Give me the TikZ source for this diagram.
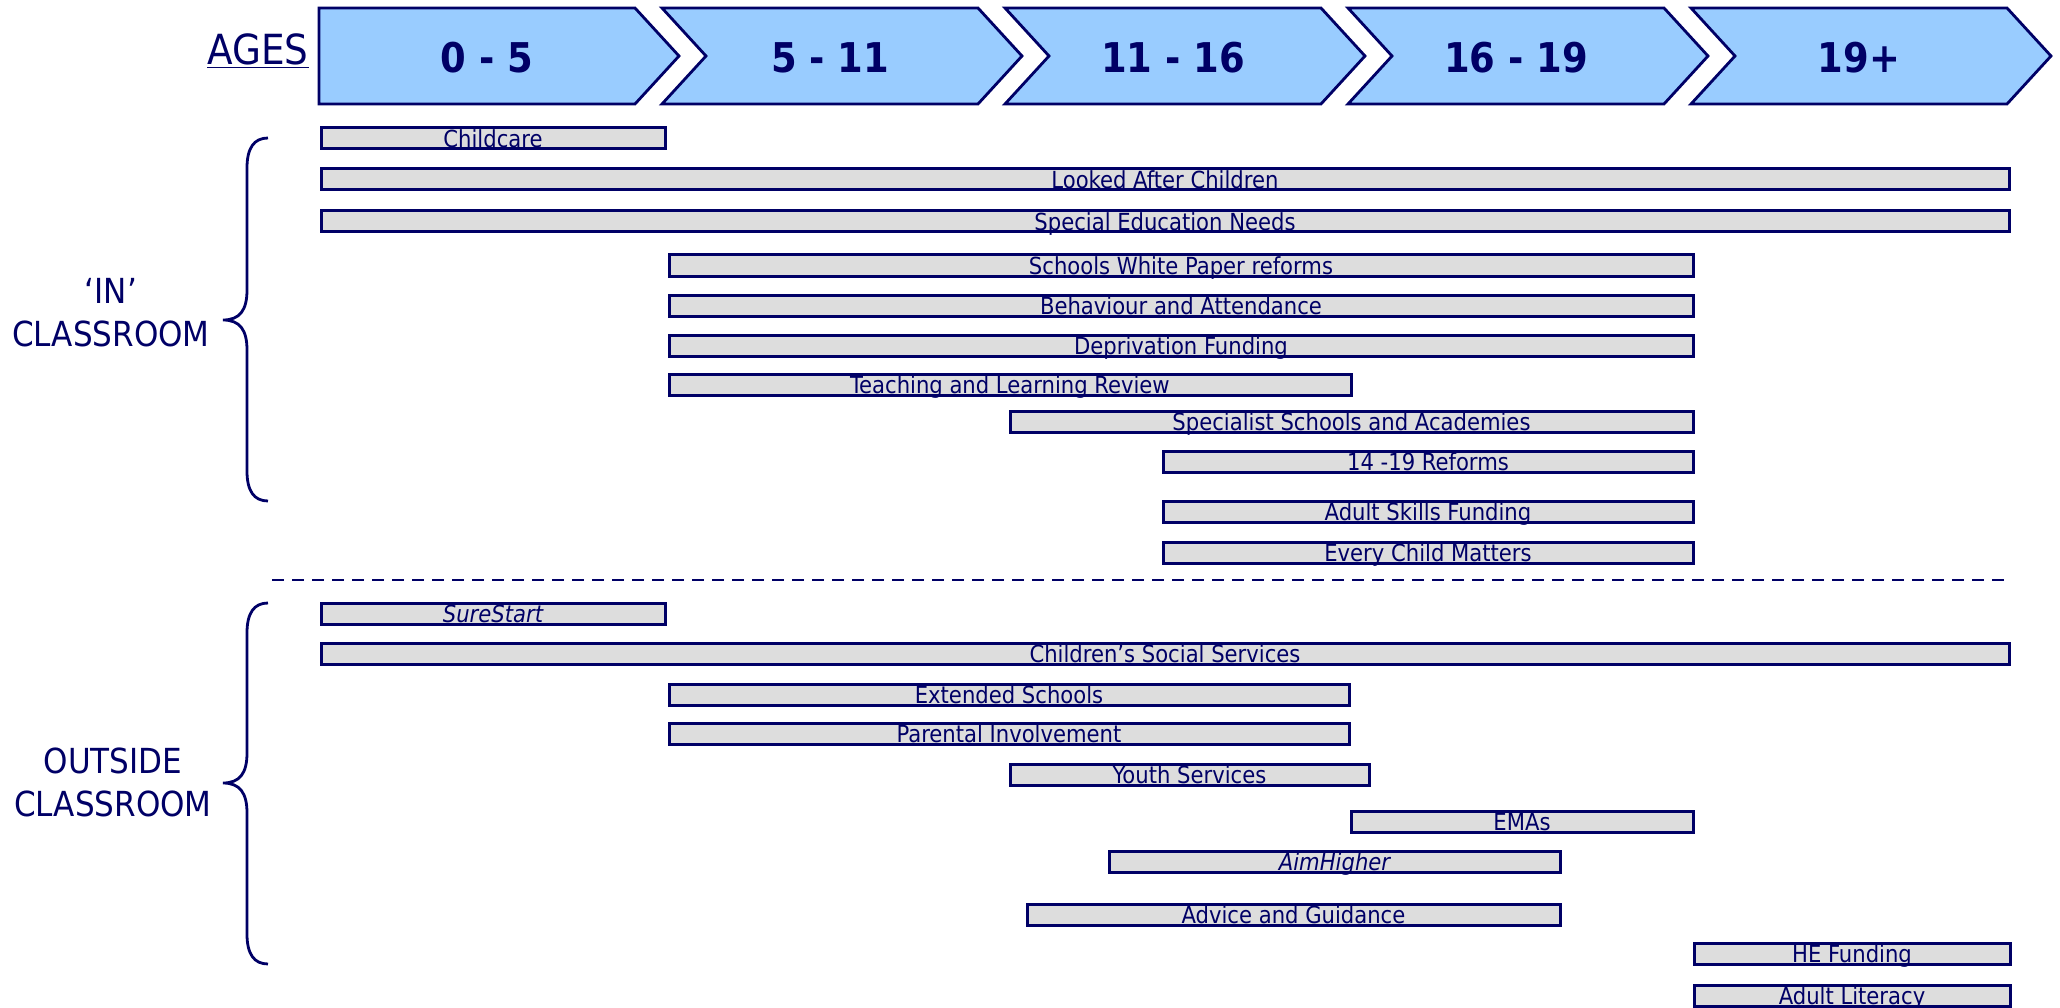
\documentclass[tikz,border=0pt]{standalone}
\usepackage{fontspec}
\setmainfont{DejaVu Sans Condensed}
\usepackage{xcolor}
\definecolor{navy}{HTML}{000066}
\definecolor{ageblue}{HTML}{99CCFF}
\definecolor{bargray}{HTML}{DDDDDD}

\tikzset{
  bar/.style={draw=navy,fill=bargray,line width=3pt,inner sep=0pt,anchor=north west,
    minimum height=21pt,text height=17.5pt,text depth=0pt,text=navy,
    font=\fontsize{23.5}{28}\selectfont},
  agebox/.style={draw=navy,fill=ageblue,line width=2.8pt},
  agetext/.style={text=navy,font=\fontsize{41}{49}\selectfont\bfseries,anchor=base},
  side/.style={text=navy,font=\fontsize{34.5}{42.5}\selectfont,align=center,anchor=south,inner sep=0pt},
  brace/.style={draw=navy,line width=2.8pt}
}

\begin{document}
\begin{tikzpicture}[x=1pt,y=-1pt]
\useasboundingbox (0,0) rectangle (2060,1008);

% age chevrons
\draw [agebox] (319,8) -- (635,8) -- (679,56) -- (635,104) -- (319,104) -- cycle;
\draw [agebox] (662,8) -- (978,8) -- (1022,56) -- (978,104) -- (662,104) -- (706,56) -- cycle;
\draw [agebox] (1005,8) -- (1321,8) -- (1365,56) -- (1321,104) -- (1005,104) -- (1049,56) -- cycle;
\draw [agebox] (1348,8) -- (1664,8) -- (1708,56) -- (1664,104) -- (1348,104) -- (1392,56) -- cycle;
\draw [agebox] (1691,8) -- (2007,8) -- (2051,56) -- (2007,104) -- (1691,104) -- (1735,56) -- cycle;
\node [agetext] (age1) at (487,73) {0 - 5};
\node [agetext] (age2) at (830,73) {5 - 11};
\node [agetext] (age3) at (1173,73) {11 - 16};
\node [agetext] (age4) at (1516,73) {16 - 19};
\node [agetext] (age5) at (1859,73) {19+};
\node [text=navy,font=\fontsize{41.5}{50}\selectfont,anchor=base] (ages) at (258,65) {\underline{AGES}};

% in classroom
\draw [brace] (268,138) .. controls (254,138) and (247,148) .. (247,168) -- (247,290)
  .. controls (247,310) and (240,320) .. (223,320) .. controls (240,320) and (247,330) .. (247,350)
  -- (247,471) .. controls (247,491) and (254,501) .. (268,501);
\node [side] (inlab) at (111,347) {‘IN’\\CLASSROOM};

\node [bar,minimum width=344] (childcare) at (319.5,126.5) {Childcare};
\node [bar,minimum width=1688] (lac) at (319.5,167.5) {Looked After Children};
\node [bar,minimum width=1688] (sen) at (319.5,209.5) {Special Education Needs};
\node [bar,minimum width=1024] (swp) at (667.5,253.5) {Schools White Paper reforms};
\node [bar,minimum width=1024] (behav) at (667.5,293.5) {Behaviour and Attendance};
\node [bar,minimum width=1024] (depriv) at (667.5,333.5) {Deprivation Funding};
\node [bar,minimum width=682] (teach) at (667.5,372.5) {Teaching and Learning Review};
\node [bar,minimum width=683] (spec) at (1008.5,409.5) {Specialist Schools and Academies};
\node [bar,minimum width=530] (reform) at (1161.5,449.5) {14 -19 Reforms};
\node [bar,minimum width=530] (skills) at (1161.5,499.5) {Adult Skills Funding};
\node [bar,minimum width=530] (ecm) at (1161.5,540.5) {Every Child Matters};

% divider
\coordinate (divl) at (272,580);
\coordinate (divr) at (2009,580);
\draw [navy,line width=2.8pt,dash pattern=on 12pt off 8pt] (divl) -- (divr);

% outside classroom
\draw [brace] (268,603) .. controls (254,603) and (247,613) .. (247,633) -- (247,753)
  .. controls (247,773) and (240,783) .. (223,783) .. controls (240,783) and (247,793) .. (247,813)
  -- (247,934) .. controls (247,954) and (254,964) .. (268,964);
\node [side] (outlab) at (113,817) {OUTSIDE\\CLASSROOM};

\node [bar,minimum width=344] (sure) at (319.5,601.5) {\itshape SureStart};
\node [bar,minimum width=1688] (social) at (319.5,641.5) {Children’s Social Services};
\node [bar,minimum width=680] (ext) at (667.5,682.5) {Extended Schools};
\node [bar,minimum width=680] (parent) at (667.5,721.5) {Parental Involvement};
\node [bar,minimum width=359] (youth) at (1008.5,762.5) {Youth Services};
\node [bar,minimum width=342] (ema) at (1349.5,809.5) {EMAs};
\node [bar,minimum width=451] (aim) at (1107.5,849.5) {\itshape AimHigher};
\node [bar,minimum width=533] (advice) at (1025.5,902.5) {Advice and Guidance};
\node [bar,minimum width=316] (hefund) at (1692.5,941.5) {HE Funding};
\node [bar,minimum width=316] (literacy) at (1692.5,983.5) {Adult Literacy};
\end{tikzpicture}
\end{document}
